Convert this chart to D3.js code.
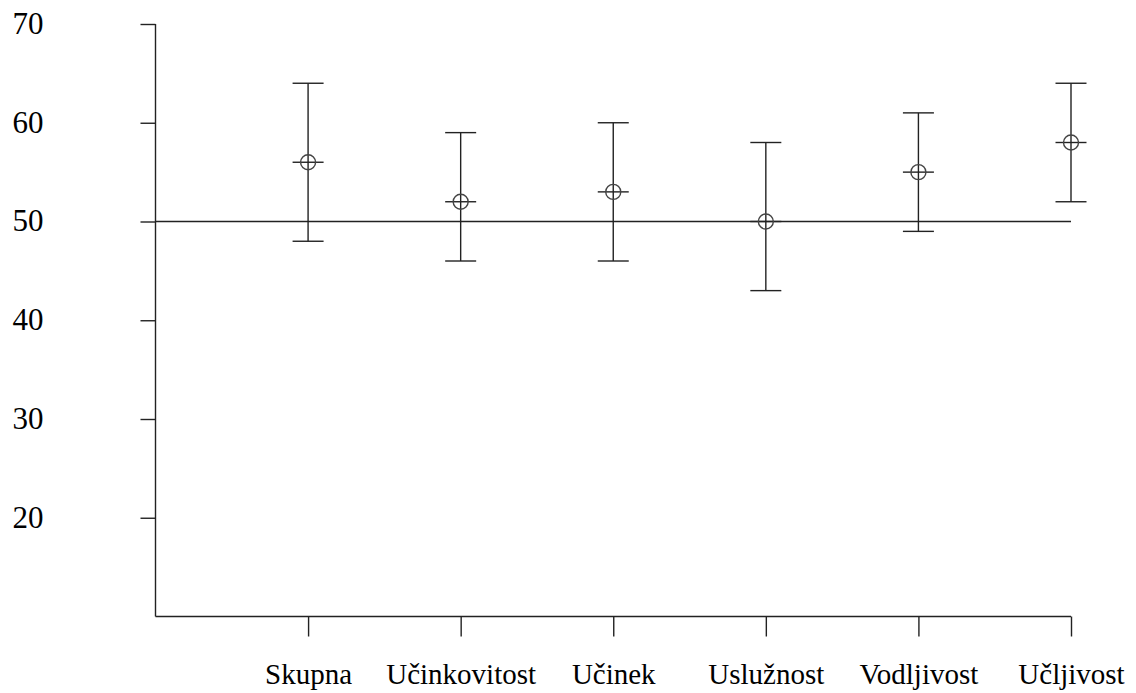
<!DOCTYPE html>
<html>
<head>
<meta charset="utf-8">
<script src="https://cdn.jsdelivr.net/npm/d3@7"></script>
<style>
  html, body { margin: 0; padding: 0; background: #fff; }
  svg { display: block; }
  text { font-family: "Liberation Serif", "DejaVu Serif", serif; fill: #000; }
</style>
</head>
<body>
<svg id="chart" width="1136" height="693"></svg>
<script>
const categories = ["Skupna", "Učinkovitost", "Učinek", "Uslužnost", "Vodljivost", "Učljivost"];
const means = [56, 52, 53, 50, 55, 58];
const lower = [48, 46, 46, 43, 49, 52];
const upper = [64, 59, 60, 58, 61, 64];
const yTicks = [20, 30, 40, 50, 60, 70];
const refValue = 50;

const svg = d3.select("#chart");
const stroke = "#222";
const sw = 1.4;

const x = d3.scaleLinear().domain([0, 6]).range([155.5, 1071]);
const y = d3.scaleLinear().domain([10, 70]).range([616.5, 24]);

// y axis
const yAxis = d3.axisLeft(y).tickValues(yTicks).tickSize(15).tickPadding(97).tickSizeOuter(0);
const gy = svg.append("g").attr("transform", `translate(${x(0)},0)`).call(yAxis);
gy.select(".domain").attr("d", `M0,${y(70)}V${y(10)}`);
gy.selectAll("path,line").attr("stroke", stroke).attr("stroke-width", sw);
gy.selectAll("text").attr("font-size", 31).attr("font-family", "Liberation Serif").attr("fill", "#000").attr("dy", "0.3em");

// x axis
const xAxis = d3.axisBottom(x).tickValues(d3.range(1, 7)).tickFormat(d => categories[d - 1])
  .tickSize(20).tickPadding(27).tickSizeOuter(0);
const gx = svg.append("g").attr("transform", `translate(0,${y(10)})`).call(xAxis);
gx.select(".domain").attr("d", `M${x(0)},0H${x(6)}`);
gx.selectAll("path,line").attr("stroke", stroke).attr("stroke-width", sw);
gx.selectAll("text").attr("font-size", 29).attr("font-family", "Liberation Serif").attr("fill", "#000");

// reference line
svg.append("line")
  .attr("x1", x(0)).attr("x2", x(6))
  .attr("y1", y(refValue)).attr("y2", y(refValue))
  .attr("stroke", stroke).attr("stroke-width", sw);

const data = categories.map((c, i) => ({ c, i: i + 1, m: means[i], lo: lower[i], hi: upper[i] }));
const capW = 15.5;
const g = svg.append("g").selectAll("g").data(data).join("g");

g.append("line").attr("x1", d => x(d.i)).attr("x2", d => x(d.i))
  .attr("y1", d => y(d.lo)).attr("y2", d => y(d.hi))
  .attr("stroke", stroke).attr("stroke-width", sw);
g.append("line").attr("x1", d => x(d.i) - capW).attr("x2", d => x(d.i) + capW)
  .attr("y1", d => y(d.hi)).attr("y2", d => y(d.hi))
  .attr("stroke", stroke).attr("stroke-width", sw);
g.append("line").attr("x1", d => x(d.i) - capW).attr("x2", d => x(d.i) + capW)
  .attr("y1", d => y(d.lo)).attr("y2", d => y(d.lo))
  .attr("stroke", stroke).attr("stroke-width", sw);
g.append("line").attr("x1", d => x(d.i) - capW).attr("x2", d => x(d.i) + capW)
  .attr("y1", d => y(d.m)).attr("y2", d => y(d.m))
  .attr("stroke", stroke).attr("stroke-width", sw);
g.append("circle").attr("cx", d => x(d.i)).attr("cy", d => y(d.m)).attr("r", 7.5)
  .attr("fill", "none").attr("stroke", "#444").attr("stroke-width", 1.4);
</script>
</body>
</html>
